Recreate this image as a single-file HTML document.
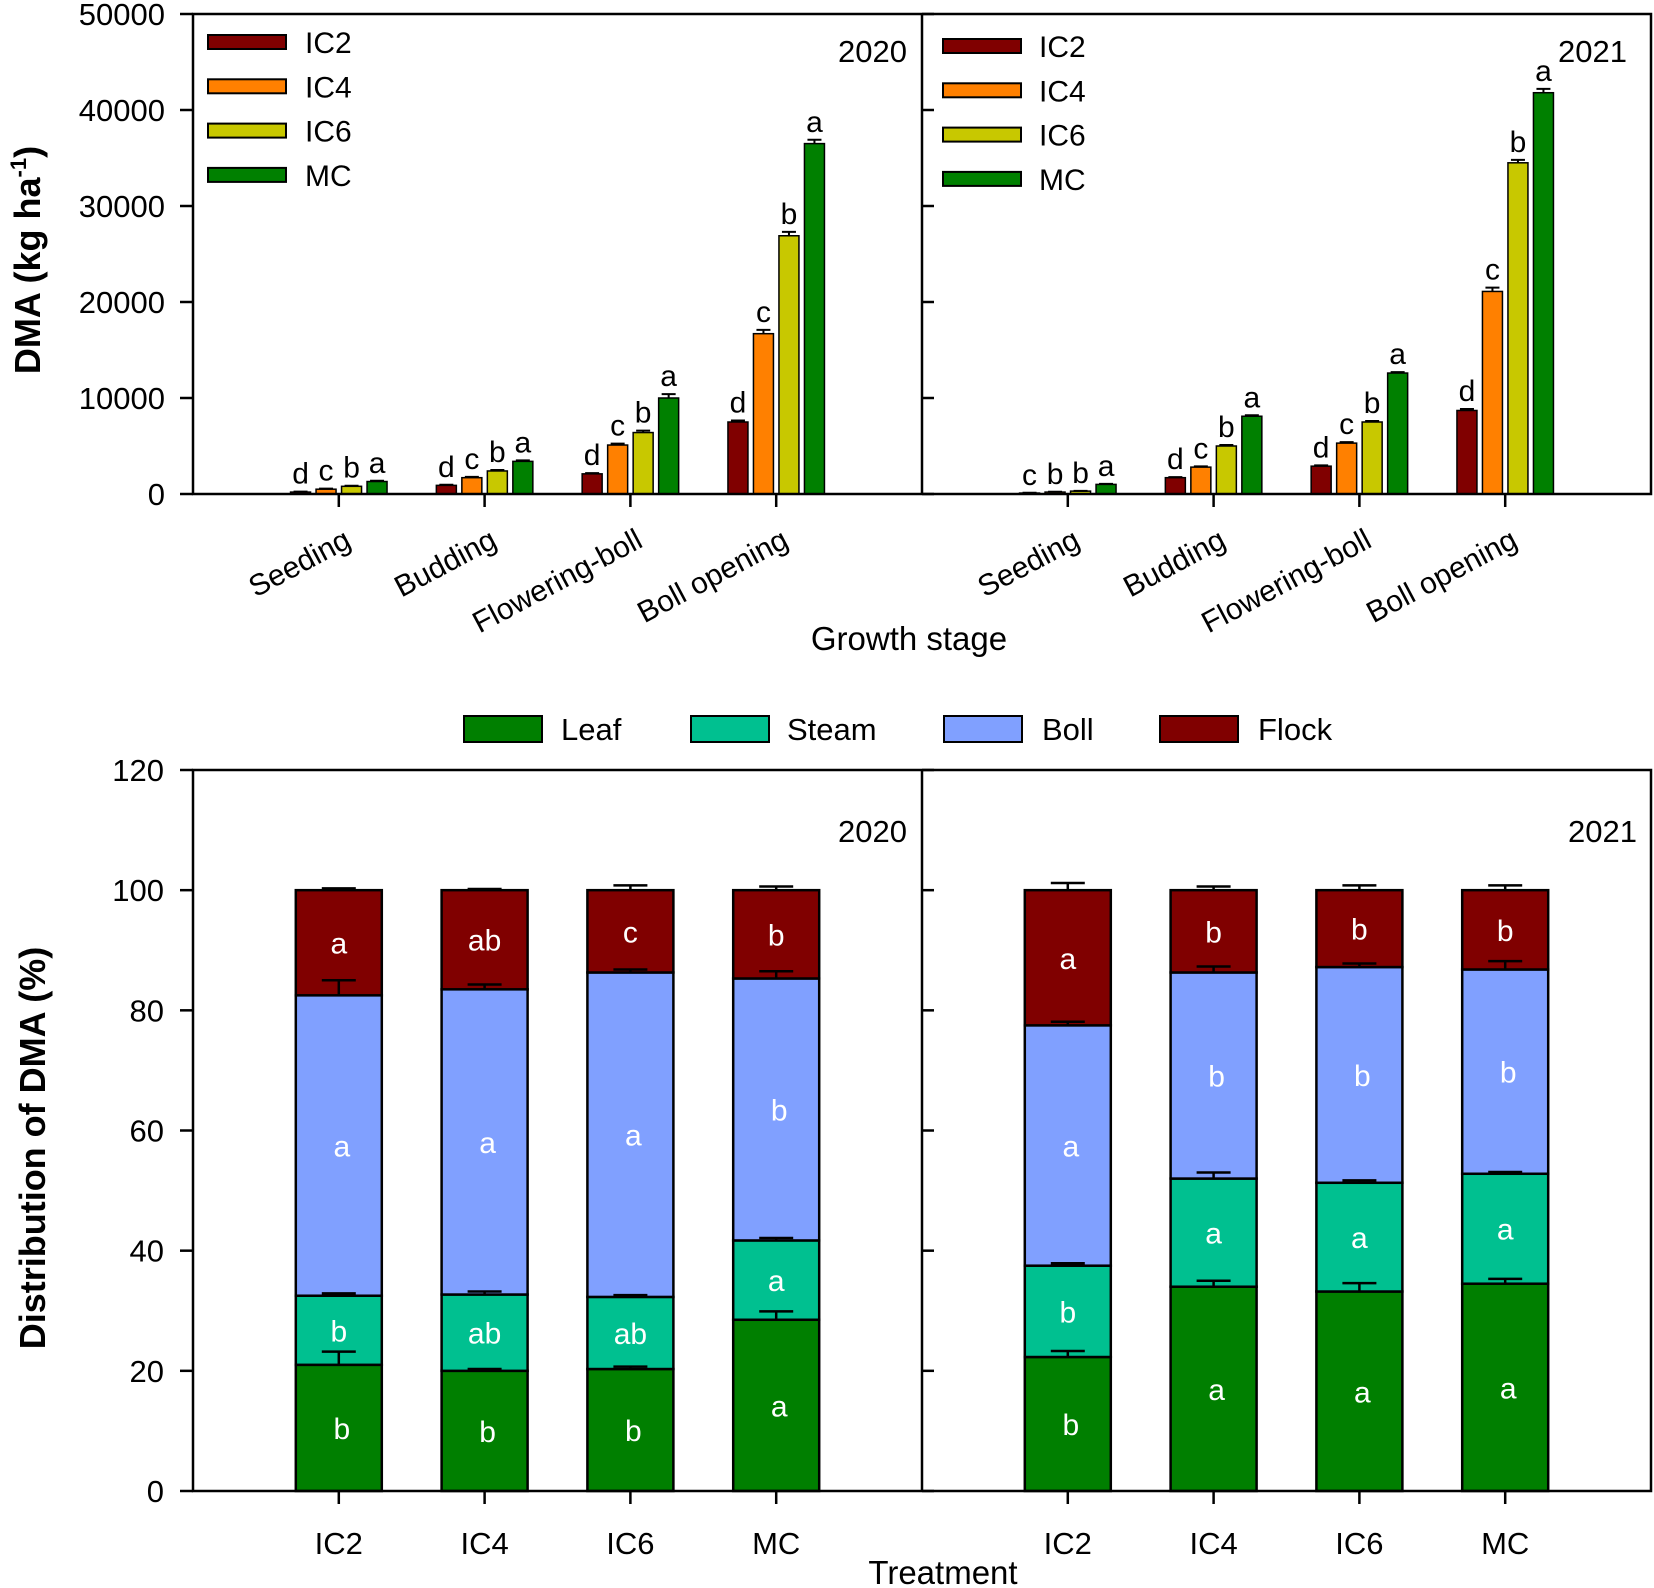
<!DOCTYPE html>
<html><head><meta charset="utf-8"><style>
html,body{margin:0;padding:0;background:#fff;}
svg{display:block;font-family:"Liberation Sans",Arial,sans-serif;}
</style></head><body>
<svg id="chart" width="1654" height="1588" viewBox="0 0 1654 1588" xmlns="http://www.w3.org/2000/svg"></svg>
<script>
// ---- Top chart data (DMA, kg/ha) ----
const stages = ["Seeding","Budding","Flowering-boll","Boll opening"];
const treatments = ["IC2","IC4","IC6","MC"];
const dma2020_IC2 = [200, 900, 2100, 7500];
const dma2020_IC4 = [500, 1700, 5100, 16700];
const dma2020_IC6 = [800, 2400, 6400, 26900];
const dma2020_MC  = [1300, 3400, 10000, 36500];
const dma2021_IC2 = [100, 1700, 2900, 8700];
const dma2021_IC4 = [200, 2800, 5300, 21100];
const dma2021_IC6 = [300, 5000, 7500, 34500];
const dma2021_MC  = [1000, 8100, 12600, 41800];
const dmaErr2020 = [[50,60,80,150],[60,80,150,400],[60,100,200,400],[80,100,400,400]];
const dmaErr2021 = [[30,60,80,150],[30,80,100,400],[30,100,100,300],[60,100,100,400]];
const letters2020 = [["d","d","d","d"],["c","c","c","c"],["b","b","b","b"],["a","a","a","a"]];
const letters2021 = [["c","d","d","d"],["b","c","c","c"],["b","b","b","b"],["a","a","a","a"]];
const topTicks = [0,10000,20000,30000,40000,50000];
// ---- Bottom chart data (% distribution) ----
const parts = ["Leaf","Steam","Boll","Flock"];
const leaf2020  = [21.0, 20.0, 20.3, 28.5];
const steam2020 = [11.5, 12.7, 12.0, 13.2];
const boll2020  = [50.0, 50.8, 54.0, 43.6];
const flock2020 = [17.5, 16.5, 13.7, 14.7];
const leaf2021  = [22.3, 34.0, 33.2, 34.5];
const steam2021 = [15.2, 18.0, 18.1, 18.3];
const boll2021  = [40.0, 34.3, 35.9, 34.0];
const flock2021 = [22.5, 13.7, 12.8, 13.2];
const err2020 = [[2.2,0.3,0.4,1.4],[0.4,0.5,0.3,0.4],[2.5,0.8,0.5,1.2],[0.3,0.2,0.8,0.6]];
const err2021 = [[1.0,1.0,1.4,0.8],[0.4,1.0,0.4,0.3],[0.6,1.0,0.6,1.4],[1.2,0.6,0.8,0.8]];
const segLetters2020 = [["b","b","a","a"],["b","ab","a","ab"],["b","ab","a","c"],["a","a","b","b"]];
const segLetters2021 = [["b","b","a","a"],["a","a","b","b"],["a","a","b","b"],["a","a","b","b"]];
const bottomTicks = [0,20,40,60,80,100,120];

const svg = document.getElementById('chart');
const NS = "http://www.w3.org/2000/svg";
function mk(tag, attrs, parent){
  const e = document.createElementNS(NS, tag);
  for (const k in attrs) e.setAttribute(k, attrs[k]);
  (parent||svg).appendChild(e);
  return e;
}
function txt(s, attrs, parent){ const t = mk('text', attrs, parent); t.textContent = s; return t; }

const X0 = 193, XMID = 922, X1 = 1651, CAT = 145.8;
function xCat(panel, i){ return (panel===0?X0:XMID) + CAT*(i+1); }

// ---------------- TOP CHART ----------------
const TT = 14, TB = 494;
function yTop(v){ return TB - (TB-TT)*v/50000; }
const topCols = ["#800000","#ff8000","#c8c800","#008000"];
const topData = [[dma2020_IC2,dma2020_IC4,dma2020_IC6,dma2020_MC],[dma2021_IC2,dma2021_IC4,dma2021_IC6,dma2021_MC]];
const topErr = [dmaErr2020, dmaErr2021];
const topLet = [letters2020, letters2021];
const gTop = mk('g', {});



for (let p=0;p<2;p++){
  for (let s=0;s<4;s++){
    for (let t=0;t<4;t++){
      const v = topData[p][t][s];
      const cx = xCat(p,s) + (t-1.5)*25.5;
      const y = yTop(v);
      const r = mk('rect', {x:cx-10, y:y, width:20, height:TB-y, fill:topCols[t], stroke:'#000','stroke-width':1.5}, gTop);
      
      
      const ye = yTop(v+topErr[p][t][s]);
      mk('path', {d:`M${cx} ${y} V${ye} M${cx-7} ${ye} H${cx+7}`, stroke:'#000','stroke-width':2, fill:'none'}, gTop);
      const l = txt(topLet[p][t][s], {x:cx, y:ye-8, 'font-size':30, 'text-anchor':'middle', fill:'#000'}, gTop);
      
      
    }
  }
}
// frame
mk('rect',{x:X0,y:TT,width:X1-X0,height:TB-TT,fill:'none',stroke:'#000','stroke-width':2.5});
mk('line',{x1:XMID,y1:TT,x2:XMID,y2:TB,stroke:'#000','stroke-width':2.5});
topTicks.forEach(v=>{
  const y = yTop(v);
  mk('line',{x1:X0-13,y1:y,x2:X0,y2:y,stroke:'#000','stroke-width':2.5});
  mk('line',{x1:XMID,y1:y,x2:XMID+12,y2:y,stroke:'#000','stroke-width':2.5});
  const t = txt(String(v),{x:165,y:y+11,'font-size':31,'text-anchor':'end'});
  
  
});
for (let p=0;p<2;p++) for (let s=0;s<4;s++){
  const x = xCat(p,s);
  mk('line',{x1:x,y1:TB,x2:x,y2:TB+13,stroke:'#000','stroke-width':2.5});
  const t = txt(stages[s],{x:0,y:0,'font-size':30,'text-anchor':'end',transform:`translate(${x+14},${TB+52}) rotate(-28)`});
  
  
}
const yt1 = txt('',{x:0,y:0,'font-size':36,'font-weight':'bold','text-anchor':'middle',transform:'translate(40,260) rotate(-90)'});
yt1.innerHTML = 'DMA (kg ha<tspan dy="-14" font-size="22">-1</tspan><tspan dy="14">)</tspan>';


const xt1 = txt('Growth stage',{x:909,y:650,'font-size':33,'text-anchor':'middle'});


const yr1 = txt('2020',{x:907,y:62,'font-size':31,'text-anchor':'end'});


const yr2 = txt('2021',{x:1627,y:62,'font-size':31,'text-anchor':'end'});


// legends
[[208,42,305],[943,46,1039]].forEach((L,li)=>{
  for (let t=0;t<4;t++){
    const y = L[1] + t*44.3;
    const g = mk('g',{});
    
    
    mk('rect',{x:L[0],y:y-7,width:78,height:14,fill:topCols[t],stroke:'#000','stroke-width':2},g);
    txt(treatments[t],{x:L[2],y:y+11,'font-size':30},g);
  }
});

// ---------------- BOTTOM CHART ----------------
const BT = 770, BB = 1491;
function yB(v){ return BB - (BB-BT)*v/120; }
const botCols = ["#007f00","#00c090","#80a0ff","#800000"];
const botData = [[leaf2020,steam2020,boll2020,flock2020],[leaf2021,steam2021,boll2021,flock2021]];
const botErr = [err2020, err2021];
const botLet = [segLetters2020, segLetters2021];
const gB = mk('g',{});


for (let p=0;p<2;p++){
  for (let t=0;t<4;t++){
    const cx = xCat(p,t);
    let cum = 0;
    for (let k=0;k<4;k++){
      const v = botData[p][k][t];
      const y0 = yB(cum), y1 = yB(cum+v);
      const r = mk('rect',{x:cx-43,y:y1,width:86,height:y0-y1,fill:botCols[k],stroke:'#000','stroke-width':2.5},gB);
      
      
      cum += v;
      const lbl = txt(botLet[p][t][k],{x:cx+ (k%2?0:3),y:(y0+y1)/2+11,'font-size':30,fill:'#fff','text-anchor':'middle'},gB);
      
      
    }
    let c2 = 0;
    for (let k=0;k<4;k++){
      c2 += botData[p][k][t];
      const e = botErr[p][k][t];
      const y = yB(c2), ye = yB(c2+e);
      mk('path',{d:`M${cx} ${y} V${ye} M${cx-17} ${ye} H${cx+17}`,stroke:'#000','stroke-width':2.5,fill:'none'},gB);
    }
  }
}
mk('rect',{x:X0,y:BT,width:X1-X0,height:BB-BT,fill:'none',stroke:'#000','stroke-width':2.5});
mk('line',{x1:XMID,y1:BT,x2:XMID,y2:BB,stroke:'#000','stroke-width':2.5});
bottomTicks.forEach(v=>{
  const y = yB(v);
  mk('line',{x1:X0-13,y1:y,x2:X0,y2:y,stroke:'#000','stroke-width':2.5});
  mk('line',{x1:XMID,y1:y,x2:XMID+12,y2:y,stroke:'#000','stroke-width':2.5});
  const t = txt(String(v),{x:164,y:y+11,'font-size':31,'text-anchor':'end'});
  
  
});
for (let p=0;p<2;p++) for (let t=0;t<4;t++){
  const x = xCat(p,t);
  mk('line',{x1:x,y1:BB,x2:x,y2:BB+13,stroke:'#000','stroke-width':2.5});
  const l = txt(treatments[t],{x:x,y:1554,'font-size':31,'text-anchor':'middle'});
  
  
}
const yt2 = txt('Distribution of DMA (%)',{x:0,y:0,'font-size':36,'font-weight':'bold','text-anchor':'middle',transform:'translate(45,1148) rotate(-90)'});


const xt2 = txt('Treatment',{x:943,y:1584,'font-size':33,'text-anchor':'middle'});


const yr3 = txt('2020',{x:907,y:842,'font-size':31,'text-anchor':'end'});


const yr4 = txt('2021',{x:1637,y:842,'font-size':31,'text-anchor':'end'});


const legX = [[464,561],[691,787],[944,1042],[1160,1258]];
for (let k=0;k<4;k++){
  const g = mk('g',{});
  
  
  mk('rect',{x:legX[k][0],y:716,width:78,height:26,fill:botCols[k],stroke:'#000','stroke-width':2},g);
  txt(parts[k],{x:legX[k][1],y:740,'font-size':31},g);
}
</script>
</body></html>
